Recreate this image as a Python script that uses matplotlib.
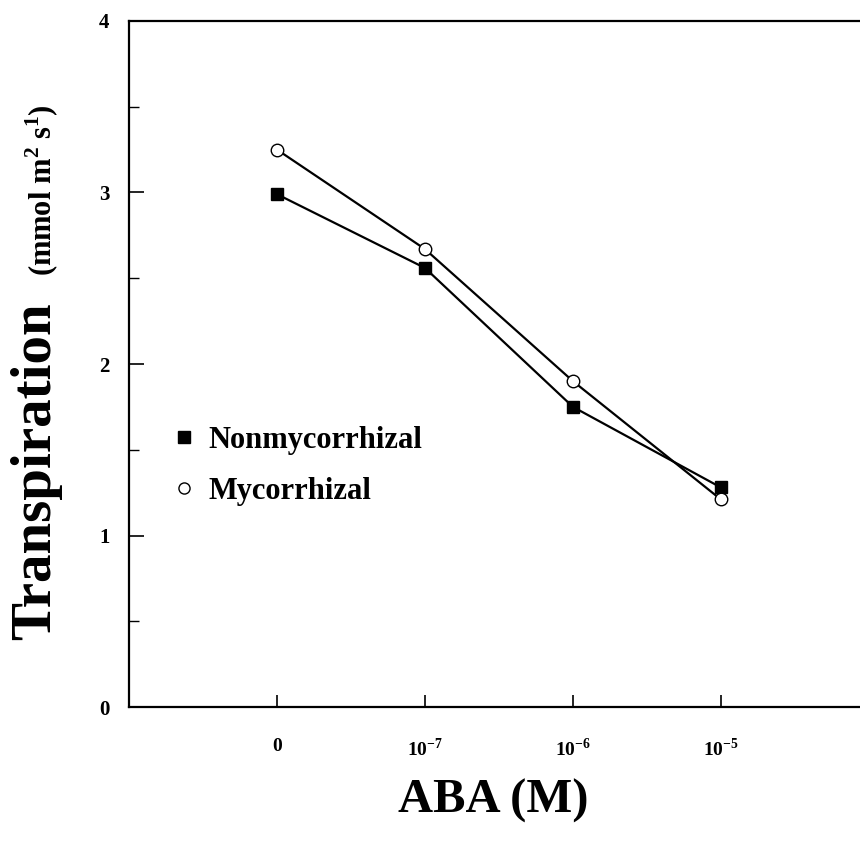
import matplotlib
matplotlib.use("Agg")
import matplotlib.pyplot as plt
from matplotlib.lines import Line2D
from matplotlib.ticker import MultipleLocator

# ABA treatment levels (categorical positions)
aba_labels = ["0", r"10$^{\mathbf{-7}}$", r"10$^{\mathbf{-6}}$", r"10$^{\mathbf{-5}}$"]
aba_pos = [0, 1, 2, 3]

# transpiration (mmol m-2 s-1)
nonmyc = [2.99, 2.56, 1.75, 1.28]
myc = [3.25, 2.67, 1.90, 1.21]

plt.rcParams['font.family'] = ['Liberation Serif', 'DejaVu Serif']
plt.rcParams['font.weight'] = 'bold'
plt.rcParams['mathtext.fontset'] = 'custom'
plt.rcParams['mathtext.rm'] = 'Liberation Serif:bold'
plt.rcParams['mathtext.bf'] = 'Liberation Serif:bold'

W, H = 860, 847
fig = plt.figure(figsize=(W / 100, H / 100), dpi=100)
ax = fig.add_axes([129 / W, 1 - 707 / H, 1 - 129 / W, (707 - 21) / H])

ax.plot(aba_pos, nonmyc, color='black', lw=1.6, marker='s', ms=9,
        mfc='black', mec='black', mew=1.0, zorder=3)
ax.plot(aba_pos, myc, color='black', lw=1.6, marker='o', ms=9,
        mfc='white', mec='black', mew=1.0, zorder=3)

ax.set_xlim(-1, 3.94)
ax.set_ylim(0, 4)
ax.set_xticks(aba_pos)
ax.set_xticklabels(aba_labels, fontsize=14, fontweight='bold')
ax.set_yticks([0, 1, 2, 3, 4])
ax.set_yticklabels(["0", "1", "2", "3", "4"], fontsize=15, fontweight='bold')
ax.yaxis.set_minor_locator(MultipleLocator(0.5))

ax.tick_params(axis='x', direction='in', length=9, width=1.2, pad=22)
ax.tick_params(axis='y', which='major', direction='in', length=11, width=1.2, pad=14)
ax.tick_params(axis='y', which='minor', direction='in', length=7, width=1.0)

for side in ['left', 'top', 'bottom']:
    ax.spines[side].set_linewidth(1.6)
ax.spines['right'].set_visible(False)

# axis titles
fig.text(493 / W, 1 - 801 / H, "ABA (M)", fontsize=35, fontweight='bold',
         ha='center', va='center')
fig.text(36 / W, 1 - 471 / H, "Transpiration", fontsize=41, fontweight='bold',
         rotation=90, ha='center', va='center')
fig.text(42 / W, 1 - 190 / H, r"(mmol m$^{\mathbf{2}}$ s$^{\mathbf{1}}$)", fontsize=22,
         fontweight='bold', rotation=90, ha='center', va='center')

handles = [
    Line2D([], [], ls='none', marker='s', ms=8, mfc='black', mec='black', label='Nonmycorrhizal'),
    Line2D([], [], ls='none', marker='o', ms=8, mfc='white', mec='black', label='Mycorrhizal'),
]
ax.legend(handles=handles, loc='center left', bbox_to_anchor=(0.025, (707 - 466) / 686),
          frameon=False, handlelength=0.6, handletextpad=0.5,
          labelspacing=0.72, prop={'weight': 'bold', 'size': 22})

fig.savefig("out.png", dpi=100)
